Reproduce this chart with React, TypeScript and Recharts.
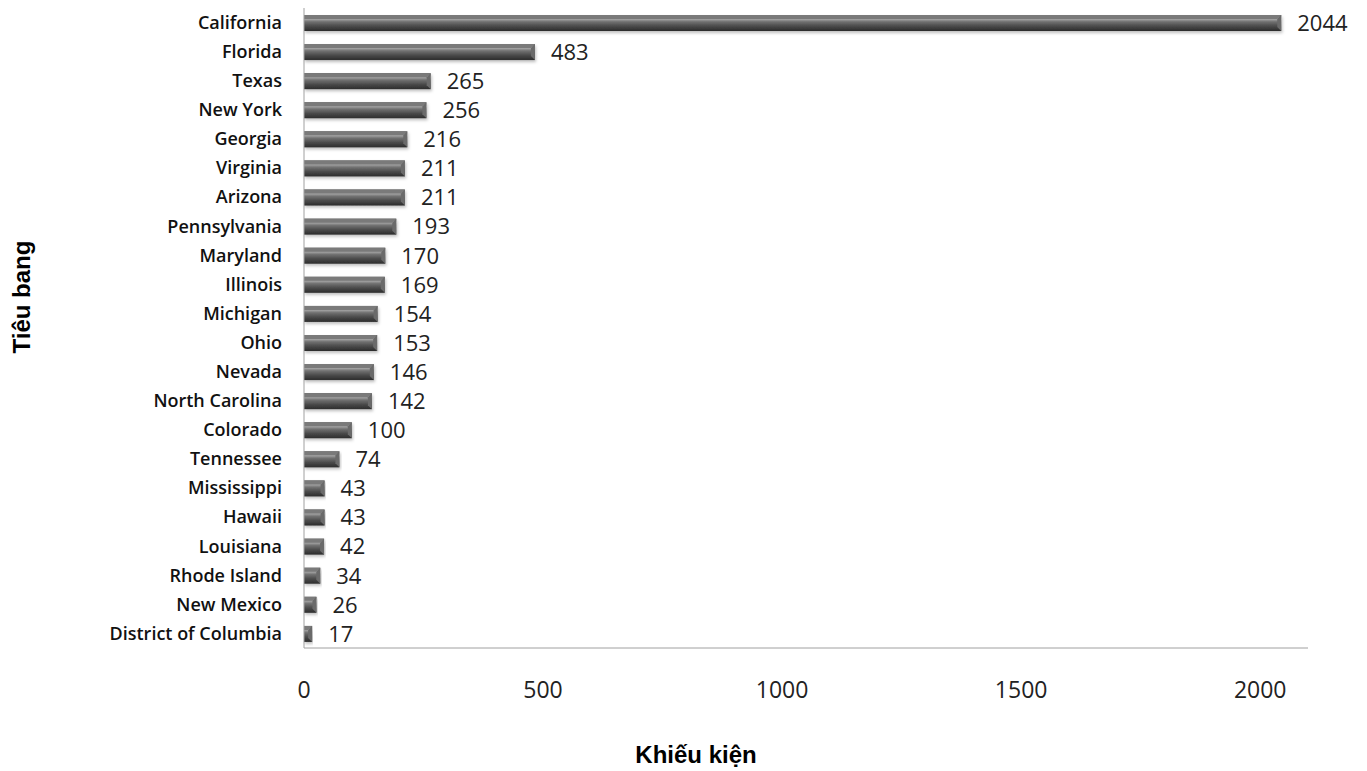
import { BarChart, Bar, XAxis, YAxis, LabelList, Label } from "recharts";

const states = [
  "California",
  "Florida",
  "Texas",
  "New York",
  "Georgia",
  "Virginia",
  "Arizona",
  "Pennsylvania",
  "Maryland",
  "Illinois",
  "Michigan",
  "Ohio",
  "Nevada",
  "North Carolina",
  "Colorado",
  "Tennessee",
  "Mississippi",
  "Hawaii",
  "Louisiana",
  "Rhode Island",
  "New Mexico",
  "District of Columbia",
];

const complaints = [
  2044, 483, 265, 256, 216, 211, 211, 193, 170, 169, 154, 153, 146, 142, 100,
  74, 43, 43, 42, 34, 26, 17,
];

const xTicks = [0, 500, 1000, 1500, 2000];

const data = states.map((name, i) => ({ name, value: complaints[i] }));

const titleStyle = {
  fontFamily: "Liberation Sans",
  fontWeight: "bold",
  fontSize: 24,
  fill: "#000",
};

// bevelled dark bar, roughly like the old Excel preset
const BevelBar = (props: any) => {
  const { x, y, width, height } = props;
  if (!width || width <= 0) return null;
  const b = Math.min(4, width / 2, height / 3);
  const r = x + width;
  return (
    <g filter="url(#barShadow)">
      <rect x={x} y={y} width={width} height={height} fill="url(#barBody)" />
      <polygon
        points={`${r - b},${y + b} ${r},${y} ${r},${y + height} ${r - b},${y + height - b}`}
        fill="#6a6a6a"
      />
      <polygon
        points={`${x},${y} ${r},${y} ${r - b},${y + b} ${x},${y + b}`}
        fill="#7a7a7a"
      />
    </g>
  );
};

export default function App() {
  return (
    <BarChart
      width={1351}
      height={763}
      data={data}
      layout="vertical"
      margin={{ top: 0, right: 51, bottom: 0, left: 0 }}
    >
      <defs>
        <linearGradient id="barBody" x1="0" y1="0" x2="0" y2="1">
          <stop offset="0%" stopColor="#505050" />
          <stop offset="25%" stopColor="#a8a8a8" />
          <stop offset="42%" stopColor="#727272" />
          <stop offset="70%" stopColor="#4a4a4a" />
          <stop offset="100%" stopColor="#2c2c2c" />
        </linearGradient>
        <filter id="barShadow" x="-5%" y="-30%" width="110%" height="180%">
          <feDropShadow dx="1" dy="2" stdDeviation="1.5" floodColor="#000" floodOpacity="0.25" />
        </filter>
      </defs>
      <XAxis
        type="number"
        domain={[0, 2100]}
        ticks={xTicks}
        tickLine={false}
        tickSize={0}
        tickMargin={34}
        height={123}
        axisLine={{ stroke: "#a0a0a0" }}
        tick={{ fontFamily: "Open Sans", fontSize: 23, fill: "#222" }}
      >
        <Label
          content={() => (
            <text x={688} y={755} textAnchor="middle" style={titleStyle}>
              Khiếu kiện
            </text>
          )}
        />
      </XAxis>
      <YAxis
        type="category"
        dataKey="name"
        width={296}
        interval={0}
        tickLine={false}
        tickSize={0}
        tickMargin={22}
        axisLine={{ stroke: "#a0a0a0" }}
        tick={{ fontFamily: "Open Sans", fontWeight: 600, fontSize: 18, fill: "#111" }}
      >
        <Label
          content={() => (
            <text
              x={22}
              y={289}
              textAnchor="middle"
              transform="rotate(-90, 22, 289)"
              style={titleStyle}
            >
              Tiêu bang
            </text>
          )}
        />
      </YAxis>
      <Bar dataKey="value" barSize={16} shape={<BevelBar />} isAnimationActive={false}>
        <LabelList
          dataKey="value"
          position="right"
          offset={16}
          style={{ fontFamily: "Open Sans", fontSize: 22, fill: "#222" }}
        />
      </Bar>
    </BarChart>
  );
}
